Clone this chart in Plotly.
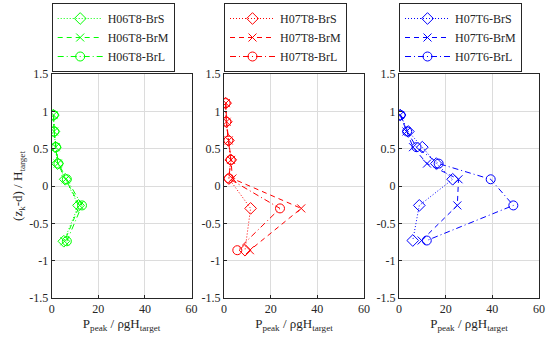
import plotly.graph_objects as go

# ---- data ----
z_p1 = [0.95, 0.73, 0.52, 0.30, 0.09, -0.26, -0.74]
h06t8_brs = [0.7, 1.0, 1.6, 2.5, 5.8, 11.5, 5.2]
h06t8_brm = [0.8, 1.0, 1.7, 2.6, 6.0, 12.0, 5.5]
h06t8_brl = [0.9, 1.1, 1.9, 2.9, 6.5, 13.0, 6.5]

z_p2 = [1.11, 0.86, 0.61, 0.35, 0.10, -0.30, -0.86]
h07t8_brs = [0.7, 1.0, 1.9, 2.9, 2.1, 11.4, 9.0]
h07t8_brm = [0.8, 1.1, 2.0, 3.0, 3.6, 33.1, 11.1]
h07t8_brl = [0.7, 1.0, 1.9, 2.9, 2.1, 24.0, 5.7]

z_p3 = [0.95, 0.73, 0.52, 0.30, 0.09, -0.26, -0.73]
h07t6_brs = [0.5, 4.0, 10.0, 16.0, 23.0, 8.7, 5.9]
h07t6_brm = [0.5, 3.2, 6.0, 12.0, 25.5, 25.0, 9.7]
h07t6_brl = [0.7, 3.5, 7.5, 17.0, 39.3, 49.0, 11.9]

x_ticks = [0, 20, 40, 60]
y_ticks = [-1.5, -1, -0.5, 0, 0.5, 1, 1.5]
y_tick_labels = ["-1.5", "-1", "-0.5", "0", "0.5", "1", "1.5"]

panels = [
    ("rgb(0,255,0)", z_p1, [("H06T8-BrS", h06t8_brs), ("H06T8-BrM", h06t8_brm), ("H06T8-BrL", h06t8_brl)]),
    ("rgb(255,0,0)", z_p2, [("H07T8-BrS", h07t8_brs), ("H07T8-BrM", h07t8_brm), ("H07T8-BrL", h07t8_brl)]),
    ("rgb(0,0,255)", z_p3, [("H07T6-BrS", h07t6_brs), ("H07T6-BrM", h07t6_brm), ("H07T6-BrL", h07t6_brl)]),
]
styles = [("1px,2px", "diamond-open", 9),
          ("5px,4px", "x-thin-open", 8),
          ("6px,3px,1px,3px", "circle-open", 9)]

W, H = 550, 340
xdom = [(51.7, 191.5), (224, 364), (399, 539)]
ydom = ((H - 298) / H, (H - 74) / H)
FONT = "Liberation Serif"

fig = go.Figure()
layout = {}
for i, (color, z, series) in enumerate(panels):
    ax = "" if i == 0 else str(i + 1)
    leg = "legend" if i == 0 else f"legend{i + 1}"
    for (name, vals), (dash, sym, msize) in zip(series, styles):
        fig.add_trace(go.Scatter(
            x=vals, y=z, name=name, mode="lines+markers",
            xaxis="x" + ax, yaxis="y" + ax, legend=leg,
            line=dict(color=color, width=1, dash=dash),
            marker=dict(symbol=sym, size=msize,
                        color=color, line=dict(color=color, width=1)),
        ))
    x0, x1 = xdom[i]
    layout["xaxis" + ax] = dict(
        domain=[x0 / W, x1 / W], range=[0, 60], anchor="y" + ax,
        tickvals=x_ticks, ticktext=[str(t) for t in x_ticks],
        showgrid=True, gridcolor="#dcdcdc", gridwidth=1, zeroline=False,
        showline=True, linecolor="#262626", linewidth=1, mirror=True,
        ticks="inside", ticklen=3, tickcolor="#262626", automargin=False,
        tickfont=dict(family=FONT, size=12, color="#262626"),
        title=dict(text="P<sub>peak</sub> / ρgH<sub>target</sub>",
                   font=dict(family=FONT, size=13, color="#262626"), standoff=0),
    )
    layout["yaxis" + ax] = dict(
        domain=list(ydom), range=[-1.5, 1.5], anchor="x" + ax,
        tickvals=y_ticks, ticktext=y_tick_labels,
        showgrid=True, gridcolor="#dcdcdc", gridwidth=1, zeroline=False,
        showline=True, linecolor="#262626", linewidth=1, mirror=True,
        ticks="inside", ticklen=3, tickcolor="#262626", automargin=False,
        tickfont=dict(family=FONT, size=12, color="#262626"),
    )
    layout[leg] = dict(
        x=x0 / W, xanchor="left", y=(H - 3) / H, yanchor="top",
        xref="paper", yref="paper",
        bordercolor="#262626", borderwidth=1, bgcolor="white",
        font=dict(family=FONT, size=12, color="#262626"),
        tracegroupgap=0, itemwidth=45, entrywidth=92,
    )

layout["yaxis"]["title"] = dict(text="(z<sub>k</sub>-d) / H<sub>target</sub>",
                                font=dict(family=FONT, size=13, color="#262626"), standoff=3)

fig.update_layout(
    width=W, height=H, margin=dict(l=0, r=0, t=0, b=0),
    paper_bgcolor="white", plot_bgcolor="white", showlegend=True,
    **layout,
)
fig.write_html("out.html", config={"displayModeBar": False},
               post_script="document.body.style.margin='0';document.body.style.padding='0';")
